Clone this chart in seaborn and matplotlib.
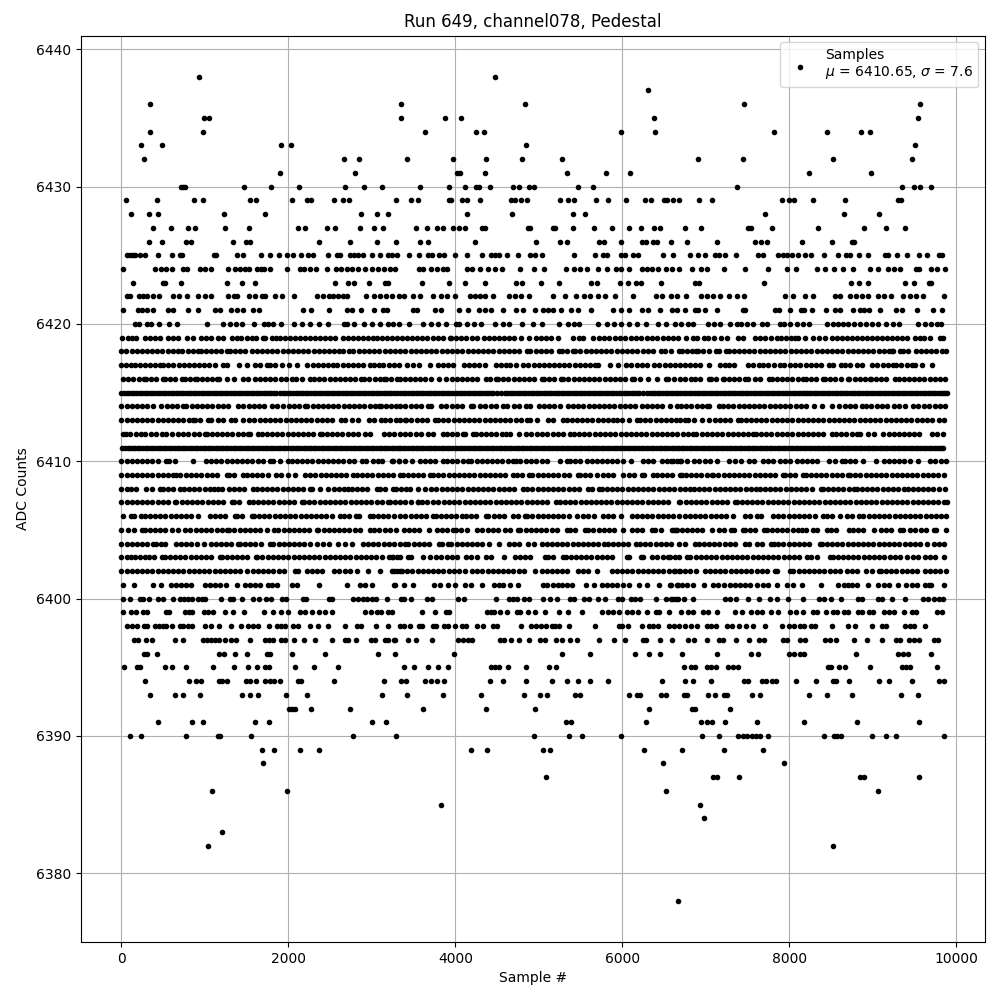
import matplotlib

matplotlib.use("Agg")

import matplotlib.pyplot as plt
import pandas as pd
import seaborn as sns

# samples per ADC level (one list per row of dots)
x_6438 = [932, 4476]
x_6437 = [6312]
x_6436 = [344, 3348, 4836, 7460, 9560]
x_6435 = [992, 1052, 3348, 3876, 4068, 6384, 9536]
x_6434 = [344, 980, 3636, 4248, 4344, 5988, 6396, 7820, 8456, 8864, 8972]
x_6433 = [236, 488, 1916, 2036, 4848, 9500]
x_6432 = [272, 2672, 2852, 3420, 3972, 4368, 4800, 5280, 6908, 7448, 8528, 9464]
x_6431 = [1904, 2804, 4020, 4056, 4356, 5340, 5808, 6096, 8240, 8984]
x_6430 = [716, 740, 764, 1472, 1796, 2132, 2684, 2900, 3116, 3576, 3924, 4116, 4248, 4284, 4416, 4692, 4764, 4884,
          4944, 5472, 5652, 7376, 9344, 9488, 9560, 9692]
x_6429 = [56, 428, 872, 980, 1544, 1616, 2048, 2228, 2276, 2552, 2660, 2732, 3288, 3468, 3552, 3924, 3948, 4080,
          4140, 4296, 4668, 4716, 4788, 4860, 5256, 5352, 5424, 5688, 5832, 6048, 6276, 6348, 6504, 6540, 6612, 6680,
          6920, 7076, 7916, 8000, 8060, 8288, 8672, 9296, 9332]
x_6428 = [116, 332, 440, 1232, 1724, 2876, 3056, 3188, 4140, 4680, 5412, 5556, 7712, 8660, 9068]
x_6427 = [380, 596, 800, 884, 1244, 1532, 2120, 2204, 2468, 2564, 2864, 3020, 3128, 3528, 3660, 3780, 3852, 3972,
          4044, 4116, 4320, 4356, 4872, 4896, 5172, 5196, 5412, 5664, 5880, 6084, 6228, 6384, 6456, 6752, 6944, 7508,
          7544, 7796, 8348, 8900, 9152, 9380]
x_6426 = [332, 488, 776, 836, 1340, 1496, 1544, 2372, 2744, 3056, 3284, 3576, 3672, 4236, 4968, 5256, 5340, 5724,
          5784, 5988, 6240, 6288, 6372, 6420, 6588, 6776, 7136, 7592, 7664, 7736, 8156, 8516, 8756, 8780]
x_6425 = [68, 100, 140, 164, 224, 284, 440, 608, 704, 728, 1112, 1136, 1388, 1460, 1676, 1784, 1892, 1988, 2060,
          2156, 2240, 2300, 2480, 2588, 2624, 2744, 2792, 2840, 2888, 2996, 3092, 3188, 3236, 3296, 3444, 3564, 3672,
          3720, 3804, 3864, 3996, 4144, 4320, 4428, 4476, 4524, 4620, 4752, 4896, 4956, 5040, 5424, 5676, 5772, 5820,
          5988, 6036, 6132, 6192, 6492, 6608, 6812, 6908, 6992, 7112, 7160, 7232, 7364, 7628, 7688, 7868, 7928, 7976,
          8036, 8108, 8192, 8264, 8420, 8588, 8684, 8732, 8840, 8948, 9140, 9176, 9284, 9404, 9548, 9644, 9788, 9824]
x_6424 = [20, 404, 476, 536, 608, 740, 788, 944, 1004, 1076, 1280, 1364, 1424, 1484, 1532, 1628, 1676, 1712, 1784,
          1988, 2144, 2192, 2260, 2336, 2464, 2576, 2636, 2708, 2768, 2840, 2920, 2996, 3068, 3140, 3212, 3272, 3564,
          3612, 3708, 3780, 3852, 3900, 4140, 4200, 4296, 4392, 4476, 4560, 4776, 4944, 5064, 5328, 5424, 5496, 5580,
          5712, 5820, 5928, 5988, 6084, 6240, 6300, 6360, 6432, 6528, 6600, 6680, 6836, 6944, 7016, 7220, 7472, 7748,
          7976, 8084, 8336, 8432, 8540, 8648, 8768, 8972, 9056, 9176, 9248, 9320, 9512, 9548, 9692, 9764, 9860]
x_6423 = [140, 500, 524, 716, 1268, 1448, 1604, 2564, 2720, 2792, 2960, 3152, 3188, 3600, 3924, 4116, 4356, 4728,
          4800, 5028, 5244, 5628, 5700, 5976, 6072, 6168, 6228, 6468, 6872, 6920, 7700, 8744, 8840, 8948, 9380, 9488,
          9668, 9692]
x_6422 = [68, 100, 212, 260, 308, 380, 452, 620, 692, 788, 920, 1004, 1076, 1280, 1352, 1388, 1532, 1604, 1688,
          1724, 1844, 1928, 2072, 2348, 2420, 2492, 2540, 2600, 2660, 2708, 2924, 3020, 3092, 3164, 3236, 3324, 3384,
          3492, 3576, 3732, 3828, 3900, 3996, 4176, 4236, 4296, 4356, 4452, 4644, 4716, 4788, 4884, 5172, 5316, 5448,
          5544, 5616, 5712, 5796, 5916, 6132, 6408, 6480, 6588, 6660, 6768, 6944, 7016, 7088, 7172, 7280, 7376, 7460,
          7952, 8048, 8192, 8288, 8552, 8612, 8732, 8804, 8876, 8948, 9056, 9128, 9212, 9356, 9440, 9512, 9596, 9848]
x_6421 = [20, 200, 248, 308, 380, 560, 620, 800, 920, 1124, 1184, 1316, 1388, 1460, 1580, 1652, 2172, 2276, 2492,
          2708, 2768, 2876, 3020, 3128, 3176, 3492, 3540, 3756, 3828, 4044, 4152, 4284, 4356, 4428, 4572, 4728, 4812,
          4956, 5052, 5112, 5172, 5268, 5388, 5472, 5628, 5892, 5988, 6084, 6240, 6312, 6456, 6600, 6656, 6752, 6872,
          6908, 6992, 7136, 7448, 7472, 7832, 7880, 8012, 8144, 8180, 8276, 8444, 8552, 8612, 8768, 8852, 8900, 8960,
          9080, 9272, 9344, 9524, 9716, 9824]
x_6420 = [164, 212, 308, 356, 452, 572, 668, 1028, 1220, 1304, 1376, 1448, 1592, 1712, 1760, 1820, 1916, 2072, 2168,
          2264, 2372, 2480, 2672, 2708, 2792, 2900, 2996, 3092, 3188, 3252, 3324, 3444, 3612, 3708, 3792, 3892, 4008,
          4044, 4140, 4224, 4308, 4476, 4572, 4644, 4800, 4932, 5040, 5244, 5352, 5424, 5484, 5712, 5820, 5904, 5988,
          6084, 6180, 6288, 6432, 6528, 6632, 6704, 6788, 6848, 7028, 7100, 7172, 7292, 7376, 7424, 7496, 7568, 7676,
          7736, 7892, 7940, 8012, 8096, 8168, 8240, 8456, 8528, 8588, 8648, 8708, 8780, 8852, 8924, 8996, 9056, 9152,
          9236, 9308, 9536, 9620, 9692, 9764, 9812]
x_6419 = [12, 76, 132, 180, 280, 340, 400, 460, 560, 620, 680, 792, 852, 948, 1008, 1068, 1152, 1220, 1328, 1388,
          1432, 1500, 1560, 1608, 1692, 1716, 1800, 1852, 1900, 1960, 2020, 2080, 2140, 2200, 2260, 2320, 2380, 2440,
          2500, 2560, 2660, 2720, 2780, 2840, 2892, 2950, 3010, 3060, 3120, 3180, 3240, 3300, 3360, 3420, 3480, 3540,
          3600, 3660, 3730, 3790, 3850, 3932, 3952, 4010, 4070, 4130, 4200, 4264, 4344, 4400, 4460, 4520, 4580, 4640,
          4700, 4792, 4880, 4960, 5020, 5080, 5140, 5230, 5404, 5480, 5530, 5652, 5716, 5780, 5844, 5908, 5972, 6036,
          6100, 6164, 6228, 6292, 6356, 6420, 6484, 6548, 6612, 6672, 6760, 6848, 6900, 6980, 7030, 7100, 7180, 7248,
          7380, 7440, 7588, 7650, 7710, 7780, 7848, 7900, 7960, 8020, 8068, 8108, 8192, 8288, 8350, 8428, 8508, 8570,
          8630, 8690, 8750, 8810, 8870, 8930, 8990, 9050, 9110, 9170, 9230, 9290, 9350, 9410, 9508, 9570, 9610, 9680,
          9800, 9836]
x_6418 = [0, 60, 122, 185, 246, 308, 370, 430, 492, 555, 616, 676, 732, 800, 860, 920, 950, 1012, 1074, 1136, 1198,
          1268, 1300, 1362, 1424, 1486, 1560, 1620, 1682, 1744, 1806, 1868, 1930, 1992, 2054, 2116, 2178, 2240, 2302,
          2364, 2426, 2488, 2550, 2612, 2660, 2732, 2780, 2842, 2904, 2966, 3028, 3090, 3152, 3214, 3276, 3340, 3402,
          3464, 3526, 3588, 3650, 3712, 3774, 3836, 3898, 3960, 4022, 4084, 4146, 4208, 4270, 4332, 4394, 4456, 4518,
          4580, 4642, 4704, 4766, 4860, 4900, 4962, 5024, 5086, 5148, 5236, 5272, 5334, 5404, 5436, 5498, 5560, 5622,
          5684, 5746, 5808, 5870, 5932, 5994, 6056, 6118, 6180, 6242, 6304, 6366, 6460, 6516, 6578, 6676, 6712, 6774,
          6836, 6880, 6908, 6970, 7032, 7120, 7160, 7240, 7272, 7334, 7396, 7458, 7520, 7582, 7644, 7706, 7768, 7830,
          7892, 7954, 8016, 8078, 8140, 8202, 8264, 8326, 8388, 8450, 8512, 8574, 8636, 8698, 8760, 8822, 8884, 8946,
          9008, 9070, 9132, 9194, 9228, 9240, 9328, 9356, 9420, 9520, 9576, 9638, 9700, 9762, 9824, 9880]
x_6417 = [0, 60, 120, 160, 222, 284, 346, 408, 460, 500, 562, 624, 686, 748, 808, 868, 930, 992, 1054, 1116, 1212,
          1268, 1412, 1500, 1600, 1660, 1740, 1780, 1842, 1920, 2008, 2108, 2228, 2290, 2352, 2414, 2476, 2532, 2588,
          2650, 2712, 2774, 2836, 2898, 2972, 3020, 3080, 3132, 3200, 3262, 3320, 3420, 3490, 3564, 3692, 3792, 3850,
          3912, 3972, 4100, 4162, 4224, 4286, 4352, 4484, 4546, 4608, 4660, 4732, 4812, 4874, 4936, 4998, 5060, 5122,
          5180, 5242, 5304, 5366, 5428, 5490, 5552, 5614, 5676, 5712, 5852, 5944, 6044, 6108, 6170, 6232, 6294, 6380,
          6444, 6506, 6568, 6630, 6688, 6750, 6812, 6874, 6936, 7040, 7168, 7224, 7280, 7340, 7508, 7570, 7640, 7688,
          7750, 7812, 7888, 7940, 8008, 8070, 8132, 8194, 8256, 8318, 8380, 8480, 8528, 8616, 8668, 8730, 8816, 8876,
          8992, 9054, 9116, 9178, 9240, 9280, 9342, 9404, 9466, 9508, 9584, 9708]
x_6416 = [20, 82, 144, 206, 268, 292, 354, 416, 500, 520, 582, 644, 732, 760, 820, 880, 900, 962, 1024, 1086, 1140,
          1172, 1260, 1352, 1460, 1520, 1600, 1660, 1720, 1782, 1844, 1906, 1968, 2040, 2088, 2160, 2260, 2308, 2370,
          2432, 2494, 2556, 2618, 2680, 2742, 2804, 2868, 2908, 2970, 3032, 3094, 3140, 3172, 3234, 3296, 3332, 3394,
          3456, 3518, 3580, 3632, 3712, 3800, 3892, 3954, 4016, 4078, 4140, 4202, 4264, 4364, 4412, 4484, 4512, 4574,
          4636, 4698, 4760, 4822, 4884, 4946, 5032, 5060, 5122, 5184, 5260, 5292, 5354, 5416, 5478, 5540, 5602, 5664,
          5726, 5788, 5850, 5912, 5974, 6036, 6112, 6144, 6206, 6312, 6420, 6524, 6552, 6614, 6692, 6754, 6828, 6872,
          6934, 7040, 7060, 7122, 7200, 7216, 7278, 7340, 7402, 7464, 7508, 7588, 7650, 7756, 7788, 7850, 7912, 7974,
          8036, 8098, 8160, 8200, 8262, 8324, 8400, 8428, 8490, 8552, 8614, 8708, 8720, 8782, 8844, 8906, 8968, 8976,
          9038, 9100, 9162, 9268, 9308, 9370, 9432, 9494, 9556, 9618, 9680, 9742, 9804, 9868]
x_6415 = [0, 62, 124, 186, 248, 310, 372, 434, 496, 558, 620, 682, 744, 806, 868, 930, 992, 1054, 1116, 1178, 1240,
          1302, 1364, 1426, 1488, 1550, 1612, 1674, 1736, 1798, 1852, 1900, 1962, 2024, 2086, 2148, 2210, 2272, 2334,
          2396, 2458, 2520, 2582, 2644, 2706, 2768, 2830, 2892, 2954, 3016, 3078, 3140, 3202, 3264, 3340, 3402, 3464,
          3526, 3588, 3650, 3712, 3774, 3836, 3898, 3960, 4022, 4084, 4146, 4208, 4270, 4332, 4394, 4456, 4552, 4592,
          4654, 4716, 4778, 4840, 4902, 4964, 5026, 5088, 5150, 5212, 5274, 5336, 5398, 5460, 5522, 5584, 5646, 5708,
          5770, 5832, 5894, 5956, 6018, 6080, 6142, 6204, 6292, 6332, 6394, 6456, 6518, 6580, 6642, 6704, 6766, 6828,
          6890, 6952, 7014, 7076, 7138, 7200, 7262, 7324, 7386, 7448, 7510, 7572, 7634, 7696, 7728, 7790, 7852, 7914,
          7976, 8038, 8100, 8162, 8216, 8232, 8294, 8356, 8418, 8480, 8542, 8604, 8666, 8728, 8790, 8852, 8914, 8976,
          9038, 9100, 9162, 9224, 9286, 9348, 9410, 9472, 9534, 9596, 9658, 9720, 9782, 9844, 9888]
x_6415_fill = [30, 92, 154, 218, 280, 340, 402, 464, 528, 590, 650, 712, 774, 836, 898, 960, 1022, 1084, 1146, 1208,
               1270, 1332, 1394, 1456, 1518, 1580, 1642, 1704, 1766, 1826, 1932, 1992, 2054, 2116, 2178, 2240, 2302,
               2364, 2426, 2488, 2550, 2612, 2674, 2736, 2798, 2860, 2922, 2984, 3046, 3108, 3170, 3232, 3300, 3370,
               3432, 3494, 3556, 3618, 3680, 3742, 3804, 3866, 3928, 3990, 4052, 4114, 4176, 4238, 4300, 4362, 4424,
               4500, 4622, 4684, 4746, 4808, 4870, 4932, 4994, 5056, 5118, 5180, 5242, 5304, 5366, 5428, 5490, 5552,
               5614, 5676, 5738, 5800, 5862, 5924, 5986, 6048, 6110, 6172, 6250, 6362, 6424, 6486, 6548, 6610, 6672,
               6734, 6796, 6858, 6920, 6982, 7044, 7106, 7168, 7230, 7292, 7354, 7416, 7478, 7540, 7602, 7664, 7758,
               7820, 7882, 7944, 8006, 8068, 8130, 8190, 8262, 8324, 8386, 8448, 8510, 8572, 8634, 8696, 8758, 8820,
               8882, 8944, 9006, 9068, 9130, 9192, 9254, 9316, 9378, 9440, 9502, 9564, 9626, 9688, 9750, 9812, 9866]
x_6414 = [0, 62, 124, 186, 248, 310, 380, 480, 542, 604, 666, 740, 780, 842, 904, 966, 1028, 1090, 1152, 1214, 1280,
          1400, 1462, 1524, 1586, 1648, 1710, 1800, 1868, 1940, 2002, 2064, 2126, 2200, 2228, 2290, 2352, 2414, 2476,
          2538, 2600, 2662, 2724, 2786, 2848, 2910, 2972, 3034, 3080, 3108, 3170, 3232, 3294, 3340, 3402, 3464, 3526,
          3588, 3672, 3708, 3832, 3894, 3956, 4018, 4080, 4184, 4212, 4300, 4360, 4422, 4484, 4572, 4620, 4700, 4762,
          4844, 4892, 5000, 5062, 5124, 5186, 5248, 5352, 5404, 5472, 5534, 5596, 5658, 5720, 5782, 5844, 5906, 5968,
          6030, 6092, 6154, 6240, 6292, 6354, 6416, 6478, 6572, 6652, 6704, 6766, 6828, 6890, 6952, 7016, 7040, 7152,
          7208, 7268, 7330, 7392, 7454, 7516, 7578, 7640, 7702, 7764, 7826, 7888, 7950, 8012, 8074, 8136, 8198, 8296,
          8388, 8516, 8600, 8662, 8724, 8786, 8868, 8916, 8984, 9046, 9108, 9170, 9248, 9308, 9388, 9480, 9536, 9616,
          9678, 9740, 9802, 9864]
x_6413 = [0, 62, 124, 186, 248, 310, 372, 434, 496, 558, 620, 682, 744, 806, 860, 880, 942, 1040, 1072, 1160, 1222,
          1308, 1360, 1460, 1532, 1594, 1656, 1718, 1780, 1842, 1904, 1966, 2028, 2090, 2152, 2214, 2276, 2340, 2400,
          2462, 2524, 2628, 2684, 2760, 2840, 2960, 3022, 3108, 3160, 3222, 3284, 3340, 3392, 3412, 3474, 3536, 3598,
          3660, 3752, 3792, 3854, 3916, 3978, 4040, 4102, 4164, 4226, 4288, 4350, 4412, 4474, 4536, 4598, 4660, 4722,
          4784, 4860, 4892, 4980, 5112, 5174, 5292, 5332, 5394, 5456, 5518, 5580, 5642, 5704, 5766, 5828, 5884, 5932,
          5992, 6084, 6180, 6212, 6274, 6336, 6398, 6460, 6522, 6584, 6646, 6692, 6754, 6788, 6856, 6960, 7040, 7108,
          7170, 7232, 7294, 7388, 7416, 7478, 7540, 7602, 7664, 7726, 7788, 7850, 7912, 7974, 8036, 8098, 8160, 8222,
          8284, 8346, 8408, 8470, 8532, 8594, 8656, 8718, 8780, 8842, 8904, 8966, 9028, 9090, 9152, 9214, 9276, 9338,
          9400, 9462, 9524, 9586, 9648, 9710, 9788, 9848]
x_6412 = [20, 60, 108, 170, 232, 280, 356, 420, 482, 540, 608, 680, 742, 804, 866, 928, 1000, 1020, 1082, 1144, 1206,
          1268, 1330, 1392, 1454, 1520, 1540, 1640, 1680, 1742, 1804, 1866, 1928, 1990, 2052, 2114, 2176, 2238, 2300,
          2380, 2400, 2462, 2524, 2586, 2648, 2710, 2772, 2834, 2920, 2980, 3140, 3202, 3264, 3340, 3392, 3452, 3532,
          3594, 3672, 3732, 3852, 3900, 3962, 4024, 4092, 4112, 4212, 4244, 4306, 4368, 4430, 4492, 4554, 4612, 4652,
          4764, 4844, 4912, 4974, 5036, 5098, 5172, 5232, 5294, 5372, 5420, 5482, 5544, 5606, 5668, 5730, 5792, 5854,
          5916, 5978, 6040, 6102, 6164, 6226, 6288, 6350, 6412, 6474, 6536, 6598, 6660, 6722, 6784, 6848, 6888, 6950,
          7012, 7074, 7136, 7198, 7260, 7322, 7384, 7446, 7508, 7568, 7600, 7662, 7724, 7786, 7848, 7910, 7972, 8034,
          8108, 8160, 8222, 8284, 8346, 8408, 8508, 8560, 8622, 8684, 8746, 8816, 8848, 8948, 9016, 9120, 9188, 9250,
          9312, 9374, 9436, 9498, 9548, 9708, 9768, 9840]
x_6411 = [12, 74, 136, 198, 260, 322, 384, 446, 508, 570, 632, 694, 756, 818, 880, 942, 1004, 1066, 1128, 1190, 1252,
          1314, 1376, 1438, 1500, 1562, 1624, 1686, 1748, 1810, 1872, 1934, 1996, 2058, 2120, 2182, 2244, 2306, 2368,
          2430, 2492, 2554, 2616, 2678, 2740, 2802, 2864, 2926, 2988, 3050, 3112, 3174, 3236, 3298, 3340, 3402, 3464,
          3526, 3588, 3650, 3712, 3774, 3836, 3898, 3960, 4022, 4084, 4146, 4208, 4270, 4332, 4394, 4456, 4518, 4580,
          4642, 4704, 4766, 4828, 4890, 4952, 5014, 5076, 5138, 5200, 5262, 5324, 5386, 5448, 5510, 5572, 5632, 5660,
          5722, 5784, 5846, 5908, 5970, 6032, 6094, 6156, 6218, 6280, 6342, 6404, 6466, 6528, 6590, 6652, 6714, 6776,
          6838, 6900, 6962, 7024, 7086, 7148, 7210, 7272, 7334, 7396, 7458, 7520, 7582, 7644, 7706, 7768, 7830, 7892,
          7954, 8016, 8078, 8140, 8202, 8264, 8326, 8388, 8450, 8512, 8588, 8616, 8678, 8740, 8802, 8864, 8926, 8988,
          9050, 9112, 9174, 9236, 9298, 9360, 9422, 9484, 9546, 9608, 9670, 9732, 9794, 9840]
x_6411_fill = [42, 104, 166, 228, 290, 352, 414, 476, 538, 600, 662, 724, 786, 848, 910, 972, 1034, 1096, 1158, 1220,
               1282, 1344, 1406, 1468, 1530, 1592, 1654, 1716, 1778, 1840, 1902, 1964, 2026, 2088, 2150, 2212, 2274,
               2336, 2398, 2460, 2522, 2584, 2646, 2708, 2770, 2832, 2894, 2956, 3018, 3080, 3142, 3204, 3266, 3320,
               3370, 3432, 3494, 3556, 3618, 3680, 3742, 3804, 3866, 3928, 3990, 4052, 4114, 4176, 4238, 4300, 4362,
               4424, 4486, 4548, 4610, 4672, 4734, 4796, 4858, 4920, 4982, 5044, 5106, 5168, 5230, 5292, 5354, 5416,
               5478, 5540, 5600, 5690, 5752, 5814, 5876, 5938, 6000, 6062, 6124, 6186, 6248, 6310, 6372, 6434, 6496,
               6558, 6620, 6682, 6744, 6806, 6868, 6930, 6992, 7054, 7116, 7178, 7240, 7302, 7364, 7426, 7488, 7550,
               7612, 7674, 7736, 7798, 7860, 7922, 7984, 8046, 8108, 8170, 8232, 8294, 8356, 8418, 8480, 8548, 8646,
               8708, 8770, 8832, 8894, 8956, 9018, 9080, 9142, 9204, 9266, 9328, 9390, 9452, 9514, 9576, 9638, 9700,
               9762, 9816]
x_6410 = [0, 62, 124, 186, 248, 310, 372, 434, 532, 572, 640, 860, 1012, 1074, 1136, 1198, 1260, 1322, 1384, 1446,
          1508, 1570, 1632, 1694, 1780, 1820, 1900, 2000, 2040, 2102, 2164, 2226, 2288, 2350, 2412, 2474, 2536, 2598,
          2660, 2722, 2784, 2880, 2928, 3008, 3070, 3120, 3252, 3320, 3244, 3324, 3400, 3484, 3572, 3634, 3696, 3758,
          3852, 3900, 3962, 4024, 4086, 4152, 4192, 4254, 4316, 4378, 4440, 4502, 4564, 4626, 4692, 4724, 4780, 4844,
          4906, 4968, 5032, 5092, 5252, 5332, 5372, 5434, 5492, 5572, 5632, 5694, 5756, 5818, 5880, 5932, 6004, 6100,
          6244, 6306, 6368, 6472, 6540, 6604, 6692, 6588, 6650, 6708, 6776, 6856, 6918, 6990, 7048, 7128, 7276, 7348,
          7416, 7520, 7582, 7680, 7748, 7810, 7888, 7948, 8010, 8096, 8148, 8210, 8272, 8328, 8480, 8542, 8628, 8668,
          8730, 8792, 8880, 9040, 9128, 9190, 9252, 9314, 9376, 9440, 9536, 9688, 9750, 9812, 9880]
x_6409 = [0, 62, 124, 186, 248, 310, 372, 434, 496, 558, 620, 660, 708, 772, 834, 896, 958, 1020, 1082, 1144, 1260,
          1292, 1354, 1452, 1500, 1562, 1624, 1686, 1760, 1848, 1910, 2000, 2080, 2200, 2262, 2324, 2386, 2448, 2510,
          2572, 2634, 2696, 2780, 2820, 2882, 2944, 3006, 3068, 3130, 3192, 3254, 3340, 3372, 3432, 3494, 3556, 3618,
          3692, 3732, 3794, 3856, 3918, 3980, 4042, 4104, 4166, 4228, 4290, 4352, 4414, 4476, 4538, 4600, 4692, 4740,
          4802, 4884, 4924, 4986, 5048, 5110, 5172, 5234, 5296, 5358, 5472, 5492, 5554, 5616, 5700, 5772, 5834, 5892,
          6012, 6074, 6136, 6232, 6260, 6364, 6412, 6474, 6536, 6598, 6692, 6720, 6760, 6822, 6884, 6946, 7008, 7068,
          7088, 7150, 7212, 7274, 7336, 7398, 7460, 7522, 7584, 7646, 7708, 7770, 7832, 7928, 7948, 8010, 8072, 8168,
          8196, 8258, 8320, 8382, 8444, 8506, 8568, 8630, 8708, 8728, 8790, 8852, 8914, 8976, 9038, 9100, 9162, 9224,
          9286, 9348, 9410, 9472, 9534, 9596, 9658, 9720, 9782, 9848]
x_6408 = [0, 62, 120, 172, 300, 362, 460, 500, 560, 622, 700, 748, 810, 872, 934, 996, 1060, 1108, 1160, 1208, 1288,
          1350, 1412, 1474, 1580, 1620, 1682, 1744, 1806, 1868, 1930, 1992, 2054, 2116, 2178, 2260, 2288, 2380, 2480,
          2542, 2604, 2666, 2720, 2760, 2822, 2884, 2946, 3060, 3100, 3162, 3252, 3284, 3346, 3408, 3460, 3552, 3632,
          3712, 3774, 3836, 3898, 3960, 4022, 4084, 4146, 4208, 4270, 4332, 4394, 4456, 4518, 4580, 4642, 4704, 4812,
          4860, 4922, 4984, 5046, 5108, 5170, 5232, 5294, 5356, 5418, 5480, 5592, 5632, 5724, 5752, 5814, 5876, 5938,
          6000, 6062, 6124, 6186, 6248, 6310, 6372, 6434, 6496, 6558, 6620, 6692, 6754, 6808, 6856, 6918, 6980, 7042,
          7104, 7166, 7228, 7290, 7352, 7414, 7476, 7538, 7600, 7648, 7708, 7770, 7832, 7894, 7956, 8018, 8080, 8142,
          8204, 8266, 8376, 8400, 8462, 8524, 8586, 8648, 8710, 8776, 8816, 8868, 8930, 8992, 9054, 9116, 9178, 9240,
          9302, 9368, 9416, 9478, 9540, 9602, 9664, 9726, 9788, 9868]
x_6407 = [0, 62, 124, 186, 248, 310, 372, 434, 496, 558, 640, 660, 722, 784, 846, 908, 970, 1032, 1094, 1156, 1218,
          1320, 1348, 1410, 1532, 1572, 1634, 1696, 1758, 1820, 1882, 1944, 2006, 2068, 2160, 2188, 2250, 2312, 2374,
          2436, 2498, 2560, 2622, 2684, 2746, 2808, 2870, 2932, 2994, 3056, 3118, 3188, 3220, 3282, 3340, 3402, 3464,
          3552, 3604, 3666, 3728, 3860, 3924, 3986, 4048, 4110, 4172, 4234, 4296, 4358, 4420, 4482, 4544, 4606, 4668,
          4730, 4792, 4854, 4916, 4978, 5040, 5102, 5204, 5252, 5314, 5376, 5438, 5500, 5562, 5624, 5686, 5748, 5810,
          5932, 5992, 6054, 6116, 6178, 6240, 6302, 6364, 6426, 6488, 6550, 6684, 6696, 6758, 6820, 6882, 6944, 7006,
          7068, 7130, 7192, 7254, 7348, 7368, 7430, 7492, 7554, 7616, 7678, 7740, 7802, 7864, 7926, 7988, 8050, 8112,
          8174, 8236, 8298, 8360, 8422, 8484, 8546, 8608, 8670, 8732, 8794, 8856, 8918, 8980, 9042, 9104, 9166, 9228,
          9290, 9352, 9414, 9476, 9538, 9600, 9662, 9724, 9786, 9848, 9888, 5870, 3790, 3550]
x_6406 = [20, 120, 148, 240, 280, 342, 404, 466, 528, 590, 652, 714, 776, 838, 912, 1060, 1122, 1184, 1246, 1360,
          1388, 1450, 1560, 1588, 1650, 1712, 1774, 1836, 1898, 1960, 2022, 2084, 2146, 2208, 2270, 2332, 2394, 2456,
          2518, 2620, 2668, 2730, 2812, 2852, 2980, 3012, 3074, 3136, 3198, 3260, 3340, 3402, 3464, 3526, 3592, 3644,
          3732, 3764, 3826, 3888, 3950, 4012, 4084, 4124, 4186, 4248, 4372, 4396, 4458, 4520, 4582, 4692, 4752, 4832,
          4860, 4922, 4984, 5046, 5108, 5170, 5232, 5294, 5356, 5460, 5532, 5594, 5656, 5772, 5832, 5894, 5980, 6112,
          6174, 6236, 6298, 6360, 6422, 6484, 6546, 6608, 6684, 6746, 6808, 6870, 6932, 6994, 7056, 7118, 7180, 7242,
          7328, 7468, 7530, 7616, 7656, 7800, 7868, 7930, 7992, 8054, 8116, 8178, 8240, 8302, 8408, 8448, 8510, 8608,
          8688, 8750, 8840, 8888, 8950, 9012, 9074, 9136, 9198, 9260, 9322, 9384, 9446, 9508, 9570, 9632, 9694, 9756,
          9818, 9880]
x_6405 = [0, 80, 148, 252, 280, 342, 404, 466, 528, 612, 680, 764, 820, 892, 954, 1016, 1078, 1140, 1202, 1268, 1292,
          1354, 1416, 1478, 1540, 1602, 1664, 1740, 1828, 1880, 1942, 2004, 2066, 2128, 2190, 2252, 2340, 2360, 2422,
          2484, 2546, 2608, 2670, 2732, 2794, 2856, 2980, 3028, 3090, 3152, 3214, 3292, 3380, 3442, 3504, 3566, 3684,
          3780, 3844, 3906, 3972, 4012, 4072, 4134, 4260, 4324, 4386, 4448, 4510, 4592, 4652, 4752, 4780, 4842, 4904,
          4966, 5028, 5090, 5152, 5214, 5332, 5372, 5434, 5552, 5592, 5654, 5716, 5778, 5840, 5902, 6004, 6112, 6174,
          6236, 6352, 6392, 6460, 6592, 6660, 6616, 6648, 6710, 6772, 6834, 6896, 6958, 7068, 7152, 7214, 7296, 7336,
          7440, 7468, 7530, 7592, 7696, 7728, 7790, 7852, 7914, 7976, 8038, 8100, 8148, 8200, 8280, 8328, 8456, 8496,
          8558, 8720, 8760, 8822, 8884, 9016, 9096, 9158, 9220, 9320, 9360, 9448, 9510, 9572, 9634, 9736, 9760, 9872]
x_6404 = [0, 62, 124, 186, 248, 310, 380, 420, 472, 520, 652, 714, 776, 838, 900, 988, 1068, 1130, 1192, 1254, 1316,
          1400, 1420, 1482, 1544, 1606, 1668, 1780, 1820, 1882, 1944, 2006, 2068, 2130, 2192, 2254, 2340, 2420, 2482,
          2600, 2680, 2760, 2892, 2954, 3016, 3078, 3140, 3202, 3264, 3340, 3402, 3432, 3500, 3562, 3624, 3686, 3804,
          3844, 3912, 3952, 4014, 4076, 4138, 4200, 4262, 4324, 4404, 4524, 4644, 4706, 4768, 4872, 4940, 5032, 5094,
          5156, 5218, 5280, 5342, 5404, 5466, 5528, 5590, 5652, 5714, 5776, 5832, 5884, 5946, 6008, 6070, 6164, 6212,
          6274, 6336, 6398, 6460, 6522, 6584, 6684, 6746, 6868, 6920, 6976, 7038, 7100, 7162, 7224, 7286, 7348, 7468,
          7520, 7608, 7670, 7776, 7816, 7868, 7930, 7992, 8054, 8116, 8178, 8240, 8368, 8388, 8450, 8512, 8574, 8636,
          8698, 8760, 8822, 8884, 8946, 9008, 9070, 9132, 9194, 9256, 9318, 9380, 9442, 9504, 9566, 9648, 9728, 9790,
          9856]
x_6403 = [0, 62, 120, 160, 222, 280, 332, 394, 492, 520, 582, 644, 706, 768, 830, 892, 954, 1016, 1078, 1180, 1200,
          1262, 1324, 1386, 1448, 1510, 1612, 1628, 1690, 1752, 1814, 1876, 1938, 2000, 2062, 2124, 2186, 2248, 2310,
          2372, 2434, 2496, 2558, 2620, 2682, 2744, 2806, 2868, 2930, 2992, 3054, 3116, 3200, 3252, 3340, 3244, 3306,
          3432, 3472, 3612, 3692, 3772, 3834, 3896, 3958, 4020, 4124, 4192, 4254, 4372, 4432, 4580, 4712, 4774, 4836,
          4898, 5072, 5112, 5174, 5292, 5320, 5382, 5444, 5506, 5568, 5630, 5692, 5754, 5816, 5878, 6052, 6084, 6220,
          6252, 6352, 6420, 6482, 6544, 6684, 6568, 6630, 6776, 6816, 6878, 6940, 7002, 7064, 7126, 7188, 7250, 7312,
          7374, 7436, 7498, 7560, 7622, 7684, 7746, 7808, 7870, 7932, 7994, 8056, 8118, 8216, 8264, 8326, 8488, 8528,
          8580, 8642, 8704, 8766, 8828, 8890, 8952, 9014, 9076, 9138, 9200, 9262, 9324, 9408, 9480, 9542, 9628, 9680,
          9742, 9856]
x_6402 = [0, 62, 124, 186, 248, 310, 372, 434, 496, 558, 620, 682, 744, 806, 868, 930, 992, 1054, 1116, 1178, 1240,
          1302, 1364, 1426, 1500, 1572, 1634, 1696, 1758, 1820, 1882, 1944, 2080, 2120, 2220, 2282, 2344, 2406, 2548,
          2612, 2674, 2736, 2820, 2948, 3092, 3240, 3302, 3340, 3260, 3362, 3424, 3486, 3548, 3610, 3672, 3734, 3796,
          3858, 3920, 3982, 4044, 4112, 4200, 4262, 4324, 4386, 4448, 4510, 4572, 4634, 4696, 4758, 4820, 4952, 5032,
          5094, 5156, 5218, 5280, 5342, 5472, 5532, 5594, 5692, 5872, 5934, 5996, 6058, 6120, 6182, 6244, 6306, 6368,
          6430, 6492, 6554, 6616, 6684, 6630, 6692, 6754, 6816, 6878, 6988, 7048, 7110, 7172, 7234, 7296, 7358, 7420,
          7482, 7544, 7608, 7668, 7730, 7828, 7856, 8008, 8048, 8110, 8172, 8234, 8296, 8358, 8420, 8482, 8544, 8606,
          8696, 8748, 8810, 8920, 8988, 9068, 9096, 9158, 9220, 9282, 9344, 9406, 9468, 9530, 9628, 9680, 9742, 9804,
          9880]
x_6401 = [20, 148, 380, 480, 600, 660, 720, 780, 840, 1000, 1060, 1120, 1180, 1252, 1380, 1480, 1540, 1600, 1660,
          1760, 1800, 1860, 2040, 2100, 2368, 2708, 2860, 2920, 3000, 3272, 3260, 3380, 3492, 3744, 3812, 3912, 3996,
          4112, 4192, 4320, 4460, 4520, 4572, 4652, 4752, 5044, 5092, 5172, 5232, 5272, 5340, 5392, 5560, 5660, 5752,
          5812, 5872, 5940, 6012, 6084, 6204, 6300, 6444, 6572, 6672, 6588, 6650, 6720, 6780, 6848, 6980, 7088, 7150,
          7220, 7290, 7348, 7410, 7470, 7530, 7608, 7688, 7750, 7848, 7968, 8048, 8148, 8376, 8580, 8650, 8700, 8748,
          8816, 8948, 9060, 9128, 9188, 9296, 9396, 9468, 9530, 9628, 9668, 9692, 9848]
x_6400 = [20, 104, 224, 260, 332, 440, 500, 620, 704, 752, 800, 848, 912, 968, 1004, 1196, 1304, 1340, 1448, 1580,
          1652, 1736, 1796, 1928, 1976, 2180, 2216, 2492, 2528, 2780, 2840, 2888, 2936, 2996, 3044, 3176, 3348, 3384,
          3468, 3660, 3720, 4032, 4104, 4488, 4644, 4692, 4740, 4824, 4884, 5052, 5136, 5220, 5376, 5424, 5544, 5604,
          5712, 5796, 5952, 6000, 6108, 6156, 6216, 6408, 6528, 6584, 6648, 6608, 6668, 6740, 6848, 7232, 7292, 7364,
          7508, 7640, 7772, 7856, 7988, 8168, 8360, 8420, 8504, 8624, 8828, 8876, 9056, 9104, 9224, 9380, 9596, 9656,
          9728, 9788, 9836]
x_6399 = [20, 116, 176, 260, 308, 536, 572, 764, 812, 848, 992, 1040, 1100, 1244, 1340, 1472, 1712, 1820, 1916, 2000,
          2144, 2204, 2288, 2372, 2444, 2528, 2912, 2984, 3056, 3104, 3188, 3236, 3600, 3756, 3888, 3924, 4380, 4428,
          4464, 4536, 4620, 4740, 4776, 4872, 4956, 5076, 5244, 5352, 5520, 5760, 5832, 5892, 5964, 6060, 6120, 6192,
          6300, 6408, 6444, 6564, 6704, 6788, 6848, 6968, 7028, 7136, 7352, 7436, 7544, 7616, 7676, 7784, 7868, 8012,
          8084, 8168, 8288, 8336, 8444, 8528, 8576, 8660, 8708, 8828, 8876, 8960, 9008, 9128, 9188, 9248, 9368, 9464,
          9512, 9764, 9824]
x_6398 = [68, 128, 188, 272, 308, 404, 452, 500, 536, 608, 704, 740, 800, 848, 1004, 1076, 1172, 1316, 1436, 1520,
          1580, 1640, 1772, 1868, 1916, 1964, 2060, 2120, 2264, 2360, 2480, 2684, 2828, 2876, 3044, 3188, 3336, 3384,
          3456, 3564, 3600, 3732, 3768, 3864, 3912, 3996, 4080, 4128, 4260, 4332, 4452, 4500, 4788, 4908, 4968, 5028,
          5088, 5160, 5196, 5244, 5364, 5676, 5964, 6000, 6072, 6240, 6324, 6372, 6432, 6564, 6624, 6680, 6752, 6824,
          6896, 7016, 7064, 7124, 7248, 7316, 7400, 7484, 7568, 7712, 7916, 8000, 8060, 8132, 8180, 8264, 8312, 8512,
          8708, 8792, 8996, 9104, 9152, 9380, 9440, 9488, 9620]
x_6397 = [152, 200, 296, 368, 644, 740, 980, 1028, 1076, 1124, 1172, 1244, 1316, 1376, 1544, 1724, 1772, 1820, 1916,
          1964, 2072, 2192, 2324, 2528, 2684, 2720, 2816, 2984, 3032, 3152, 3188, 3272, 3264, 3432, 3528, 3720, 4032,
          4092, 4152, 4200, 4536, 4584, 4668, 4764, 4884, 5016, 5076, 5208, 5280, 5376, 5460, 5724, 5904, 6036, 6252,
          6288, 6456, 6596, 6788, 6860, 7016, 7160, 7208, 7364, 7520, 7640, 7700, 7928, 7976, 8132, 8192, 8432, 8492,
          8564, 8780, 8936, 9104, 9272, 9320, 9428, 9488, 9548, 9728, 9776]
x_6396 = [272, 308, 428, 1172, 1232, 1364, 1508, 1748, 1784, 2048, 2444, 3068, 3276, 3984, 5280, 5616, 6156, 6324,
          6456, 6716, 7136, 7544, 7628, 8000, 8060, 8132, 8180, 8804, 9296, 9356, 9416, 9692]
x_6395 = [32, 188, 224, 524, 608, 776, 1100, 1352, 1520, 1628, 1724, 1772, 2084, 2312, 2600, 3384, 3504, 3672, 3792,
          3912, 4428, 4476, 4524, 4632, 4848, 5124, 5208, 6740, 6824, 6872, 7016, 7064, 7124, 7268, 7328, 7388, 8468,
          8504, 8600, 8672, 8972, 9344, 9392, 9440, 9764]
x_6394 = [284, 812, 896, 956, 1172, 1208, 1268, 1496, 1544, 1616, 1724, 1784, 1832, 1904, 2120, 2156, 2552, 3140,
          3348, 3408, 3636, 3708, 3780, 3864, 4416, 4572, 4848, 5160, 5340, 5472, 5616, 5832, 6480, 6752, 6848, 7064,
          7460, 7508, 7676, 7724, 7796, 7844, 8084, 8324, 8528, 8564, 8720, 9068, 9188, 9464, 9788, 9848]
x_6393 = [344, 644, 740, 944, 1448, 1544, 1640, 1976, 2228, 3116, 3420, 3852, 4308, 4824, 5016, 5100, 5436, 5496,
          6084, 6180, 6216, 6468, 6528, 6740, 6776, 7028, 7112, 7220, 7256, 7556, 7652, 8240, 8456, 8756, 9332, 9536]
x_6392 = [2012, 2048, 2084, 2276, 2744, 3612, 4368, 4956, 6324, 6836, 6872, 7292]
x_6391 = [440, 848, 980, 1604, 1772, 2996, 3164, 5328, 5388, 6288, 6944, 7016, 7076, 7232, 7616, 8180, 8816, 9548]
x_6390 = [104, 236, 776, 1160, 1184, 1556, 2780, 3284, 4944, 5364, 5520, 5988, 6956, 7160, 7388, 7448, 7496, 7556,
          7604, 7652, 7748, 8420, 8540, 8576, 8624, 8996, 9152, 9272, 9848]
x_6389 = [1688, 1832, 2144, 2372, 4188, 4380, 5052, 5136, 6264, 6716, 7220, 7688]
x_6388 = [1700, 6492, 7940]
x_6387 = [5088, 7088, 7136, 7400, 8852, 8900, 9548]
x_6386 = [1088, 1988, 6528, 9056]
x_6385 = [3828, 6932]
x_6384 = [6980]
x_6383 = [1208]
x_6382 = [1040, 8528]
x_6378 = [6672]

levels = [6438, 6437, 6436, 6435, 6434, 6433, 6432, 6431, 6430, 6429, 6428, 6427, 6426, 6425, 6424, 6423, 6422,
          6421, 6420, 6419, 6418, 6417, 6416, 6415, 6415, 6414, 6413, 6412, 6411, 6411, 6410, 6409, 6408, 6407,
          6406, 6405, 6404, 6403, 6402, 6401, 6400, 6399, 6398, 6397, 6396, 6395, 6394, 6393, 6392, 6391, 6390,
          6389, 6388, 6387, 6386, 6385, 6384, 6383, 6382, 6378]
rows = [x_6438, x_6437, x_6436, x_6435, x_6434, x_6433, x_6432, x_6431, x_6430, x_6429, x_6428, x_6427, x_6426,
        x_6425, x_6424, x_6423, x_6422, x_6421, x_6420, x_6419, x_6418, x_6417, x_6416, x_6415, x_6415_fill, x_6414,
        x_6413, x_6412, x_6411, x_6411_fill, x_6410, x_6409, x_6408, x_6407, x_6406, x_6405, x_6404, x_6403, x_6402,
        x_6401, x_6400, x_6399, x_6398, x_6397, x_6396, x_6395, x_6394, x_6393, x_6392, x_6391, x_6390, x_6389,
        x_6388, x_6387, x_6386, x_6385, x_6384, x_6383, x_6382, x_6378]

df = pd.DataFrame(
    [(x, level) for level, row in zip(levels, rows) for x in row],
    columns=["sample", "adc"],
)

fig, ax = plt.subplots(figsize=(10, 10), dpi=100)
sns.scatterplot(
    data=df,
    x="sample",
    y="adc",
    color="black",
    edgecolor="black",
    linewidth=1,
    s=9,
    zorder=3,
    label="Samples\n$\\mu$ = 6410.65, $\\sigma$ = 7.6",
    ax=ax,
)
ax.set_xlim(-487, 10347)
ax.set_ylim(6375, 6441)
ax.set_xlabel("Sample #")
ax.set_ylabel("ADC Counts")
ax.set_title("Run 649, channel078, Pedestal")
ax.grid(True)
ax.legend(loc="upper right")
fig.subplots_adjust(left=0.0807, right=0.9853, top=0.9645, bottom=0.058)
fig.savefig("out.png", dpi=100)
